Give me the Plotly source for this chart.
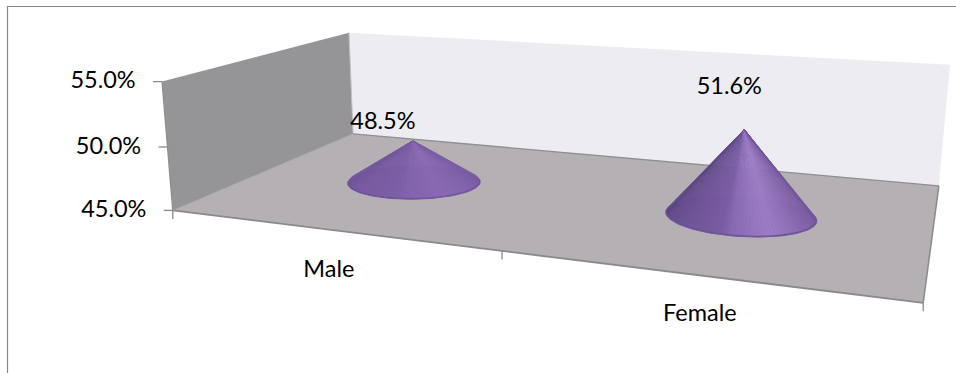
import numpy as np
import plotly.graph_objects as go

# Chart content
categories = ["Male", "Female"]
values = [48.5, 51.6]
value_ticks = [45.0, 50.0, 55.0]
value_min = 45.0
value_max = 55.0

WIDTH, HEIGHT = 956, 373
FONT = "Lato"
FONT_SIZE = 23.5

# Camera calibration: box corners (category position, depth, fraction of value range)
# paired with where they sit on the canvas.
BOX_WORLD = [(0, 0, 0), (2, 0, 0), (0, 1, 0), (2, 1, 0), (0, 0, 1), (0, 1, 1), (2, 1, 1), (1, 0, 0)]
BOX_CANVAS = [(173, 209), (923, 302), (353, 134), (939, 185), (162, 81), (349, 33), (950, 65), (502, 254)]


def solve_camera(world, canvas):
    rows = []
    for (a, b, c), (u, v) in zip(world, canvas):
        u, v = u / 1000.0, v / 1000.0
        rows.append([a, b, c, 1, 0, 0, 0, 0, -u * a, -u * b, -u * c, -u])
        rows.append([0, 0, 0, 0, a, b, c, 1, -v * a, -v * b, -v * c, -v])
    return np.linalg.svd(np.array(rows, float))[2][-1].reshape(3, 4)


CAMERA = solve_camera(BOX_WORLD, BOX_CANVAS)


def project(cat, depth, value):
    """Map category position, depth and data value to canvas coordinates."""
    cat, depth, value = np.broadcast_arrays(
        np.asarray(cat, float), np.asarray(depth, float), np.asarray(value, float)
    )
    frac = (value - value_min) / (value_max - value_min)
    pts = np.stack([cat, depth, frac, np.ones_like(frac)], axis=-1)
    h = pts @ CAMERA.T
    return 1000 * h[..., 0] / h[..., 2], 1000 * h[..., 1] / h[..., 2]


def polygon(fig, cat, depth, value, color, edge=None, edge_width=0.7):
    x, y = project(cat, depth, value)
    fig.add_trace(go.Scatter(
        x=list(x) + [x[0]], y=list(y) + [y[0]], mode="lines", fill="toself",
        fillcolor=color, line=dict(color=edge or color, width=edge_width),
        hoverinfo="skip", showlegend=False,
    ))


def stroke(fig, x, y, color="#8a8a8a", width=1.2):
    fig.add_trace(go.Scatter(
        x=x, y=y, mode="lines", line=dict(color=color, width=width),
        hoverinfo="skip", showlegend=False,
    ))


def segment(fig, cat, depth, value, color="#8a8a8a", width=1.2):
    x, y = project(cat, depth, value)
    stroke(fig, x, y, color, width)


def label(fig, x, y, text):
    fig.add_trace(go.Scatter(
        x=[x], y=[y], mode="text", text=[text], textposition="middle center",
        textfont=dict(family=FONT, size=FONT_SIZE, color="#000000"),
        hoverinfo="skip", showlegend=False,
    ))


def mix(c1, c2, t):
    return tuple(a + (b - a) * t for a, b in zip(c1, c2))


def css(c):
    return "rgb(%d,%d,%d)" % tuple(round(v) for v in c)


# Side shading from the left silhouette to the right silhouette of a cone
SHADE_POS = [0.0, 0.2, 0.44, 0.47, 0.62, 0.8, 1.0]
SHADE_COL = [(88, 67, 126), (106, 80, 144), (122, 93, 164), (136, 106, 180),
             (157, 125, 198), (133, 102, 173), (112, 86, 152)]
SHADE_MID = (126, 96, 168)


def shade(f, contrast):
    c = [np.interp(f, SHADE_POS, [s[k] for s in SHADE_COL]) for k in range(3)]
    return css(mix(SHADE_MID, c, contrast))


def draw_cone(fig, index, value):
    cx, cd = index + 0.5, 0.5
    rx, rd = 0.205, 0.185
    angles = np.linspace(0, 2 * np.pi, 121)
    rim_cat = cx + rx * np.cos(angles)
    rim_dep = cd + rd * np.sin(angles)

    # Base disc, left showing as the rim below the cone side
    polygon(fig, rim_cat, rim_dep, np.full_like(angles, value_min), "#6a4f96", "#73579f", 1.0)

    lift = value_min + 0.1
    side_cat = cx + 0.985 * rx * np.cos(angles)
    side_dep = cd + 0.985 * rd * np.sin(angles)
    bx, by = project(side_cat, side_dep, np.full_like(angles, lift))
    ax, ay = project(cx, cd, value)
    ax, ay = float(ax), float(ay)

    # Keep the facets that face the viewer, ordered left to right
    front = []
    for i in range(len(angles) - 1):
        area = (bx[i] - ax) * (by[i + 1] - ay) - (bx[i + 1] - ax) * (by[i] - ay)
        if area < 0:
            front.append(i)
    front.sort(key=lambda i: bx[i])
    contrast = min(1.0, (value - value_min) / 6.6) ** 1.6
    for order, i in enumerate(front):
        f = order / max(1, len(front) - 1)
        color = shade(f, contrast)
        fig.add_trace(go.Scatter(
            x=[ax, bx[i], bx[i + 1], ax], y=[ay, by[i], by[i + 1], ay],
            mode="lines", fill="toself", fillcolor=color,
            line=dict(color=color, width=0.6), hoverinfo="skip", showlegend=False,
        ))


fig = go.Figure()

# Chart area border (left and top sides)
stroke(fig, [7.5, 7.5, WIDTH], [HEIGHT, 6.5, 6.5], "#868686", 1.2)

# Walls and floor of the 3D box
polygon(fig, [0, 2, 2, 0], [1, 1, 1, 1], [value_min, value_min, value_max, value_max], "#eeecf3", edge_width=0)
polygon(fig, [0, 0, 0, 0], [0, 1, 1, 0], [value_min, value_min, value_max, value_max], "#959497", edge_width=0)
polygon(fig, [0, 2, 2, 0], [0, 0, 1, 1], [value_min] * 4, "#b5b0b4", edge_width=0)

segment(fig, [0, 0], [1, 1], [value_min, value_max], "#c4c3c8", 1.0)
segment(fig, [0, 0], [0, 0], [value_min, value_max], "#8f8f8f", 1.3)
segment(fig, [0, 2], [1, 1], [value_min, value_min], "#8f8f8f", 1.3)
segment(fig, [0, 2], [0, 0], [value_min, value_min], "#8a8a8a", 1.8)
segment(fig, [2, 2], [0, 1], [value_min, value_min], "#8a8a8a", 1.5)
segment(fig, [0, 0], [0, 1], [value_min, value_min], "#a5a3a6", 1.0)

# Tick marks on the value axis (level) and the category axis (downward)
for tick in value_ticks:
    x, y = project(0, 0, tick)
    stroke(fig, [float(x) - 9, float(x)], [float(y), float(y)], "#8a8a8a", 1.3)
for pos in range(len(categories) + 1):
    x, y = project(pos, 0, value_min)
    stroke(fig, [float(x), float(x)], [float(y), float(y) + 8.5], "#8a8a8a", 1.3)

# Cones, each rising from the floor to its value
for i, v in enumerate(values):
    draw_cone(fig, i, v)

# Value axis labels sit just left of their ticks
for tick in value_ticks:
    x, y = project(0, 0, tick)
    label(fig, float(x) - 59, float(y) + 1, f"{tick:.1f}%")

# Category labels under the front edge
CATEGORY_SHIFT = [(1, 1), (1, -1)]
for i, name in enumerate(categories):
    x, y = project(i + 0.5, 0, value_min)
    dx, dy = CATEGORY_SHIFT[i]
    label(fig, float(x) + dx, float(y) + 41 + dy, name)

# Data labels beside each cone tip
LABEL_SHIFT = [(-30, -18), (-15, -41)]
for i, v in enumerate(values):
    x, y = project(i + 0.5, 0.5, v)
    dx, dy = LABEL_SHIFT[i]
    label(fig, float(x) + dx, float(y) + dy, f"{v:.1f}%")

fig.update_layout(
    width=WIDTH, height=HEIGHT, margin=dict(l=0, r=0, t=0, b=0),
    paper_bgcolor="#ffffff", plot_bgcolor="#ffffff", showlegend=False,
    xaxis=dict(range=[0, WIDTH], visible=False, fixedrange=True),
    yaxis=dict(range=[HEIGHT, 0], visible=False, fixedrange=True),
)
fig.write_html("out.html", config={"displayModeBar": False})
